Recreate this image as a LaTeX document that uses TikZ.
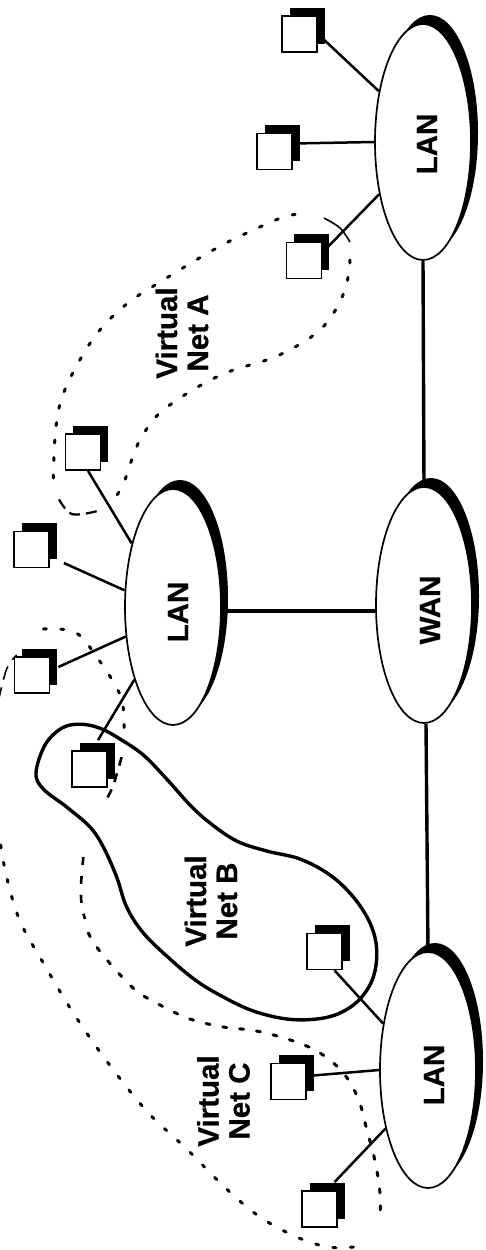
\documentclass[tikz,border=0pt]{standalone}
\usepackage{fontspec}
\setmainfont{Liberation Sans}
\newfontfamily\labelfont[FakeBold=0.6]{Liberation Sans Bold}
\usetikzlibrary{shapes.geometric,shadows}
\tikzset{
  netnode/.style={ellipse,draw,fill=white,line width=1.7pt,inner sep=0pt,minimum width=96pt,minimum height=236pt,
    general shadow={fill=black,shadow xshift=7pt,shadow yshift=9pt}},
  pcbox/.style={rectangle,draw,fill=white,line width=1.8pt,inner sep=0pt,minimum width=35pt,minimum height=36pt,
    general shadow={fill=black,shadow xshift=7.5pt,shadow yshift=8.5pt}},
  netlabel/.style={rotate=90,font=\fontsize{29.5}{31}\selectfont\labelfont,inner sep=0pt,align=center},
  hostlink/.style={line width=2.5pt,draw=black},
  backbone/.style={line width=3.4pt,draw=black},
  dotline/.style={line width=3pt,dash pattern=on 3pt off 14.5pt,line cap=round},
  thinarc/.style={line width=1.6pt},
  solidblob/.style={line width=3.4pt,line join=round},
  crop/.style={x=0.33333pt,y=-0.4pt},
  croplow/.style={x=0.33333pt,y=-0.4pt,shift={(0pt,-625pt)}}
}
\begin{document}
\begin{tikzpicture}[x=1pt,y=-1pt]
\fill[white] (0,0) rectangle (485,1250);
\useasboundingbox (0,0) rectangle (485,1250);

% Virtual Net A
\begin{scope}[crop]
\draw[dotline] plot[smooth,tension=0.6] coordinates {(1050,650)(1040,710)(1010,770)(960,825)(880,870)(800,900)(700,925)(620,955)(540,995)(470,1040)(420,1100)(395,1150)(370,1210)(345,1245)};
\draw[line width=2.2pt,dash pattern=on 11pt off 6pt] plot[smooth,tension=0.6] coordinates {(290,1278)(215,1285)(175,1245)};
\draw[dotline] plot[smooth,tension=0.6] coordinates {(160,1195)(165,1095)(180,1010)(220,930)(290,835)(380,760)(490,700)(650,620)(760,575)(860,540)(925,535)};
\draw[thinarc] plot[smooth,tension=0.6] coordinates {(972,545)(1020,570)(1050,605)};
\end{scope}

% Virtual Net C
\begin{scope}[croplow]
\draw[dotline] plot[smooth,tension=0.6] coordinates {(130,10)(200,12)(245,30)(290,80)(320,115)(345,150)(365,185)(372,230)(372,280)};
\draw[line width=2.6pt,dash pattern=on 9pt off 8pt] plot[smooth,tension=0.6] coordinates {(365,330)(340,400)(320,435)};
\draw[line width=2.6pt,dash pattern=on 8pt off 11pt] plot[smooth,tension=0.6] coordinates {(250,580)(243,650)(245,700)(255,735)};
\draw[dotline,dash pattern=on 4pt off 13pt] plot[smooth,tension=0.6] coordinates {(265,770)(290,805)(350,865)(410,915)(480,950)(570,985)(670,1005)(770,1015)(880,1040)(960,1070)(1030,1120)(1075,1185)(1100,1260)(1125,1340)(1140,1420)(1140,1490)};
\draw[dotline] plot[smooth,tension=0.6] coordinates {(1060,1555)(985,1555)(890,1530)(780,1480)(680,1410)(560,1310)(440,1215)(320,1090)(220,970)(130,845)(60,740)(20,630)(0,540)};
\draw[thinarc,dash pattern=on 14pt off 8pt] plot[smooth,tension=0.6] coordinates {(-5,190)(20,110)(50,75)};
\end{scope}

% Virtual Net B
\begin{scope}[croplow]
\draw[solidblob] plot[smooth cycle,tension=0.6] coordinates {(108,370)(135,300)(185,258)(240,248)(300,258)(360,285)(430,325)(500,385)(570,450)(630,495)(710,540)(800,565)(900,585)(990,625)(1060,680)(1110,745)(1130,810)(1120,880)(1080,935)(1020,970)(950,985)(860,985)(760,965)(670,930)(590,890)(510,835)(430,770)(380,705)(350,630)(310,555)(270,505)(200,455)(130,410)};
\end{scope}

% Networks
\node[netnode] (lan1) at (423,142) {};
\node[netnode] (lan2) at (173,607) {};
\node[netnode] (wan)  at (424,605) {};
\node[netnode] (lan3) at (428,1070) {};

\node[netlabel] (lan1t) at (427,144) {LAN};
\node[netlabel] (lan2t) at (178,612) {LAN};
\node[netlabel] (want)  at (430,610) {WAN};
\node[netlabel] (lan3t) at (434,1075) {LAN};

% Hosts
\node[pcbox] (p1) at (299.5,34) {};
\node[pcbox] (p2) at (274.5,151.5) {};
\node[pcbox] (p3) at (304,260.5) {};
\node[pcbox] (p4) at (83,452) {};
\node[pcbox] (p5) at (31.5,549.5) {};
\node[pcbox] (p6) at (32,675) {};
\node[pcbox] (p7) at (89.5,769) {};
\node[pcbox] (p8) at (324.5,951.5) {};
\node[pcbox] (p9) at (288.5,1081.5) {};
\node[pcbox] (p10) at (319.5,1209) {};

% Backbone
\draw[backbone] (lan1.south) -- (wan.north);
\draw[backbone] ([yshift=-4pt]lan2.east) -- ([yshift=-6pt]wan.west);
\draw[backbone] ([xshift=2pt]wan.south) -- (lan3.north);

% Host links
\draw[hostlink] (p1.east) -- (lan1.131);
\draw[hostlink] ([yshift=8pt]p2.east) -- (lan1.180);
\draw[hostlink] ([yshift=8pt]p3.east) -- (lan1.230);
\draw[hostlink] ([xshift=5pt]p4.south) -- (lan2.123);
\draw[hostlink] ([xshift=14pt,yshift=-13.5pt]p5.east) -- (lan2.161);
\draw[hostlink] ([xshift=8pt,yshift=8pt]p6.east) -- (lan2.212);
\draw[hostlink] ([xshift=8.5pt,yshift=10pt]p7.north) -- (lan2.242);
\draw[hostlink] ([xshift=10pt]p8.south) -- (lan3.134);
\draw[hostlink] ([yshift=5.5pt]p9.east) -- (lan3.180);
\draw[hostlink] ([xshift=15pt,yshift=8pt]p10.north) -- (lan3.234);

% Labels
\node[netlabel] (neta) at (182,333) {Virtual\\Net A};
\node[netlabel] (netb) at (211,901) {Virtual\\Net B};
\node[netlabel] (netc) at (223.5,1101) {Virtual\\Net C};
\end{tikzpicture}
\end{document}
